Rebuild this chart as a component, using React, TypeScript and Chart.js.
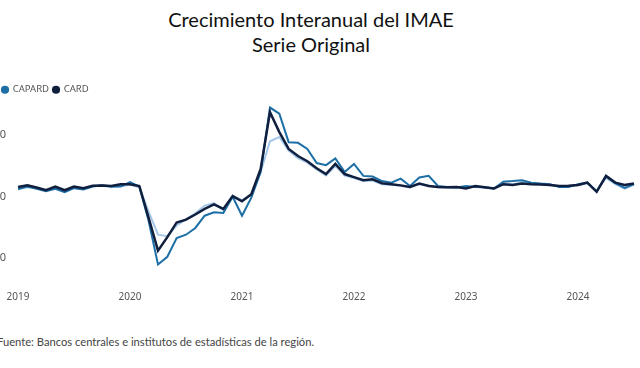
import React, { useEffect, useRef } from "react";
import { Chart, registerables } from "chart.js";

Chart.register(...registerables);

const years = ["2019", "2020", "2021", "2022", "2023", "2024"];
const monthsShown = 67; // Jan 2019 – Jul 2024

const capard = [
  2.3, 3.2, 2.5, 1.7, 2.5, 1.4, 2.7, 2.3, 3.2, 3.6, 3.2, 3.2,
  4.7, 3.2, -8.0, -22.2, -19.7, -13.6, -12.5, -10.3, -6.3, -5.2, -5.4, -0.1,
  -6.3, -0.4, 8.0, 29.0, 27.0, 17.7, 17.5, 15.5, 10.9, 10.2, 12.4, 8.0,
  10.6, 6.7, 6.5, 5.0, 4.5, 5.8, 3.4, 6.2, 6.7, 3.4, 3.1, 2.9,
  3.4, 3.1, 3.0, 2.6, 4.8, 5.0, 5.3, 4.5, 4.2, 4.0, 3.1, 3.1,
  4.0, 4.5, 1.6, 6.5, 4.3, 2.8, 4.0,
];

const card = [
  3.1, 3.6, 2.9, 2.0, 3.2, 2.0, 3.2, 2.7, 3.5, 3.6, 3.4, 4.0,
  4.0, 3.4, -7.0, -17.7, -13.3, -8.5, -7.6, -5.9, -4.1, -2.6, -4.1, 0.1,
  -1.6, 0.7, 9.0, 27.5, 21.0, 15.5, 13.2, 11.5, 9.2, 7.3, 10.6, 7.3,
  6.3, 5.3, 5.6, 4.3, 4.0, 3.6, 3.1, 4.2, 3.4, 3.1, 3.0, 3.1,
  2.6, 3.4, 3.0, 2.6, 4.0, 3.7, 4.2, 4.0, 3.9, 3.7, 3.4, 3.5,
  3.7, 4.5, 1.5, 6.7, 4.5, 3.7, 4.2,
];

const third = [
  2.6, 3.0, 2.7, 2.2, 2.8, 2.0, 2.9, 2.4, 3.3, 3.5, 3.0, 3.3,
  3.8, 3.0, -5.0, -12.5, -13.0, -9.5, -7.5, -5.5, -3.0, -2.2, -4.5, 0.3,
  -1.2, 0.5, 8.0, 18.0, 19.4, 15.0, 12.5, 11.0, 8.8, 6.8, 10.0, 6.8,
  6.0, 5.0, 5.2, 4.0, 3.8, 3.5, 2.9, 4.0, 3.6, 3.0, 2.8, 3.0,
  2.8, 3.2, 2.8, 2.5, 4.2, 4.0, 4.5, 4.2, 4.0, 3.6, 3.2, 3.3,
  3.6, 4.3, 1.8, 6.0, 4.0, 2.5, 3.8,
];

const yTicks = [-20, 0, 20];

const labels: string[] = [];
years.forEach((y) => {
  for (let m = 1; m <= 12; m++) labels.push(`${y}-${m}`);
});
const shownLabels = labels.slice(0, monthsShown);

const uiFont = "'Noto Sans', 'Open Sans', sans-serif";

export default function App() {
  const ref = useRef<HTMLCanvasElement | null>(null);

  useEffect(() => {
    if (!ref.current) return;
    const chart = new Chart(ref.current, {
      type: "line",
      data: {
        labels: shownLabels,
        datasets: [
          {
            label: "CAPARD",
            data: capard,
            borderColor: "#1d6fa6",
            backgroundColor: "#1d6fa6",
            borderWidth: 2,
            pointRadius: 0,
            tension: 0,
            order: 1,
          },
          {
            label: "CARD",
            data: card,
            borderColor: "#0f1f3d",
            backgroundColor: "#0f1f3d",
            borderWidth: 2.5,
            pointRadius: 0,
            tension: 0,
            order: 0,
          },
          {
            label: "Otro",
            data: third,
            borderColor: "rgba(150,190,228,0.85)",
            backgroundColor: "rgba(150,190,228,0.85)",
            borderWidth: 2,
            pointRadius: 0,
            tension: 0,
            order: 2,
          },
        ],
      },
      options: {
        responsive: false,
        animation: false,
        devicePixelRatio: 1,
        layout: { padding: { top: 11, right: 6, left: 0, bottom: 0 } },
        plugins: {
          title: { display: false },
          tooltip: { enabled: false },
          legend: {
            display: true,
            position: "top",
            align: "start",
            labels: {
              usePointStyle: true,
              pointStyle: "circle",
              boxWidth: 6,
              boxHeight: 5.8,
              padding: 4,
              color: "#555",
              font: { family: uiFont, size: 9.5 },
              filter: (item) => item.datasetIndex !== 2,
              sort: (a, b) => (a.datasetIndex ?? 0) - (b.datasetIndex ?? 0),
              generateLabels: (c: any) =>
                Chart.defaults.plugins.legend.labels
                  .generateLabels(c)
                  .map((it: any) => ({ ...it, lineWidth: 0 })),
            },
          },
        },
        scales: {
          x: {
            type: "category",
            offset: false,
            grid: { display: false, drawTicks: false },
            border: { display: false },
            afterFit: (s: any) => {
              s.height = 37;
              s.paddingLeft = 0;
              s.paddingRight = 0;
            },
            ticks: {
              autoSkip: false,
              maxRotation: 0,
              minRotation: 0,
              padding: 18,
              color: "#555",
              font: { family: uiFont, size: 10 },
              callback: (_v: any, i: number) =>
                i % 12 === 0 ? years[i / 12] : "",
            },
          },
          y: {
            min: -25,
            max: 30,
            grid: { display: false, drawTicks: false },
            border: { display: false },
            afterFit: (s: any) => {
              s.width = 20;
            },
            afterBuildTicks: (s: any) => {
              s.ticks = yTicks.map((v) => ({ value: v }));
            },
            ticks: {
              padding: 12,
              color: "#555",
              font: { family: uiFont, size: 11 },
            },
          },
        },
      },
    });
    return () => chart.destroy();
  }, []);

  return (
    <div
      style={{
        position: "fixed",
        left: 0,
        top: 0,
        width: 640,
        height: 368,
        overflow: "hidden",
        background: "#fff",
      }}
    >
      <div
        style={{
          position: "absolute",
          left: 0,
          top: 7,
          width: 622,
          textAlign: "center",
          fontFamily: "Lato, 'Noto Sans', sans-serif",
          fontSize: 20,
          lineHeight: "25px",
          color: "#111",
        }}
      >
        <div>Crecimiento Interanual del IMAE</div>
        <div>Serie Original</div>
      </div>
      <canvas
        ref={ref}
        width={642}
        height={240}
        style={{ position: "absolute", left: -2, top: 70, width: 642, height: 240 }}
      />
      <div
        style={{
          position: "absolute",
          left: -3,
          top: 335,
          fontFamily: "Lato, 'Noto Sans', sans-serif",
          fontSize: 11.2,
          color: "#444",
          whiteSpace: "nowrap",
        }}
      >
        Fuente: Bancos centrales e institutos de estadísticas de la región.
      </div>
    </div>
  );
}
